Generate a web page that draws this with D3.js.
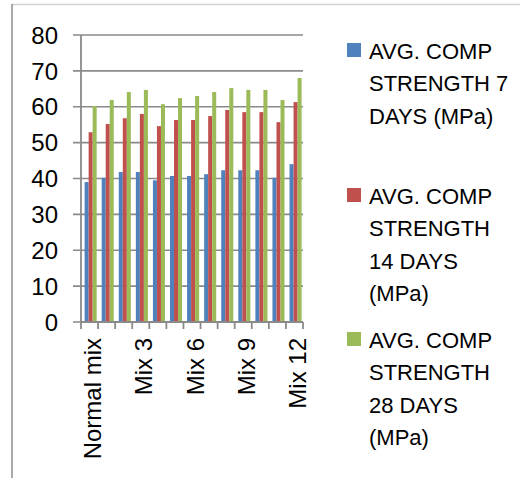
<!DOCTYPE html>
<html>
<head>
<meta charset="utf-8">
<script src="https://cdn.jsdelivr.net/npm/d3@7/dist/d3.min.js"></script>
<style>
  html, body { margin: 0; padding: 0; background: #fff; }
  svg { display: block; }
  text { font-family: "Liberation Sans", Arial, sans-serif; fill: #000; }
</style>
</head>
<body>
<script>
// ---- data ----
const categories = ["Normal mix", "Mix 1", "Mix 2", "Mix 3", "Mix 4", "Mix 5", "Mix 6",
                    "Mix 7", "Mix 8", "Mix 9", "Mix 10", "Mix 11", "Mix 12"];
const seriesNames = ["AVG. COMP STRENGTH 7 DAYS (MPa)",
                     "AVG. COMP STRENGTH 14 DAYS (MPa)",
                     "AVG. COMP STRENGTH 28 DAYS (MPa)"];
const strength7  = [39.0, 40.2, 41.8, 41.8, 39.5, 40.7, 40.7, 41.2, 42.3, 42.3, 42.3, 40.2, 44.0];
const strength14 = [52.9, 55.2, 56.8, 58.0, 54.6, 56.3, 56.3, 57.4, 59.1, 58.5, 58.5, 55.7, 61.3];
const strength28 = [60.2, 61.9, 64.1, 64.7, 60.7, 62.4, 63.0, 64.1, 65.2, 64.7, 64.7, 61.9, 68.0];
const yTicks = [0, 10, 20, 30, 40, 50, 60, 70, 80];
const colors = ["#4F81BD", "#C0504D", "#9BBB59"];

const seriesValues = [strength7, strength14, strength28];

// ---- layout ----
const W = 520, H = 478;
const plot = { left: 81, right: 303, top: 35, bottom: 322 };

const svg = d3.select("body").append("svg").attr("width", W).attr("height", H);

// outer border
svg.append("line").attr("x1", 12).attr("x2", W).attr("y1", 4.5).attr("y2", 4.5)
  .attr("stroke", "#d4d4d4").attr("stroke-width", 1.5);
svg.append("line").attr("x1", 12).attr("x2", 12).attr("y1", 4).attr("y2", H)
  .attr("stroke", "#8c8c8c").attr("stroke-width", 1.5);

const x0 = d3.scaleBand().domain(categories).range([plot.left, plot.right]).padding(0);
const x1 = d3.scaleBand().domain(d3.range(seriesNames.length))
  .range([0, x0.bandwidth()]).paddingInner(0).paddingOuter(0.625).align(0.72);
const y = d3.scaleLinear().domain([0, 80]).range([plot.bottom, plot.top]);

const gridColor = "#8a8a8a";

// gridlines (extend left as ticks)
svg.append("g").selectAll("line").data(yTicks).join("line")
  .attr("x1", plot.left - 8).attr("x2", plot.right)
  .attr("y1", d => y(d)).attr("y2", d => y(d))
  .attr("stroke", gridColor).attr("stroke-width", 1.6);

// y labels
svg.append("g").selectAll("text").data(yTicks).join("text")
  .attr("x", 58).attr("y", d => y(d)).attr("dy", "0.36em")
  .attr("text-anchor", "end").style("font-size", "24px")
  .text(d => d);

// bars
const groups = svg.append("g").selectAll("g").data(categories).join("g")
  .attr("transform", d => `translate(${x0(d)},0)`);
groups.selectAll("rect")
  .data((d, i) => seriesValues.map((vals, s) => ({ s, v: vals[i] })))
  .join("rect")
  .attr("x", d => x1(d.s)).attr("width", x1.bandwidth())
  .attr("y", d => y(d.v)).attr("height", d => y(0) - y(d.v))
  .attr("fill", d => colors[d.s]);

// y axis line
svg.append("line").attr("x1", plot.left).attr("x2", plot.left)
  .attr("y1", plot.top).attr("y2", plot.bottom)
  .attr("stroke", gridColor).attr("stroke-width", 1.8);

// x axis
const xAxis = d3.axisBottom(x0).tickSize(7).tickFormat("");
const gx = svg.append("g").attr("transform", `translate(0,${plot.bottom})`).call(xAxis);
gx.select(".domain").remove();
gx.selectAll(".tick").remove();
const boundaries = categories.map(c => x0(c)).concat([plot.right]);
gx.selectAll("line.tk").data(boundaries).join("line").attr("class", "tk")
  .attr("x1", d => d).attr("x2", d => d).attr("y1", 0).attr("y2", 7)
  .attr("stroke", gridColor).attr("stroke-width", 1.8);
gx.append("line").attr("x1", plot.left).attr("x2", plot.right).attr("y1", 0).attr("y2", 0)
  .attr("stroke", gridColor).attr("stroke-width", 1.8);

// x labels (every 3rd)
svg.append("g").selectAll("text")
  .data(categories.filter((c, i) => i % 3 === 0))
  .join("text")
  .attr("transform", d => `translate(${x0(d) + x0.bandwidth() / 2 + 3},338) rotate(-90)`)
  .attr("text-anchor", "end").attr("dy", "0.36em")
  .style("font-size", "24px")
  .text(d => d);

// legend
const legendX = 347, textX = 369, lineH = 32.3, maxW = 148;
const starts = [59, 204, 348];
seriesNames.forEach((name, i) => {
  const g = svg.append("g");
  g.append("rect").attr("x", legendX).attr("y", starts[i] - 16)
    .attr("width", 14).attr("height", 14).attr("fill", colors[i]);
  const t = g.append("text").attr("x", textX).attr("y", starts[i]).style("font-size", "22px");
  const words = name.split(" ");
  let line = [], lineNo = 0;
  let tspan = t.append("tspan").attr("x", textX).attr("y", starts[i]);
  words.forEach(w => {
    line.push(w);
    tspan.text(line.join(" "));
    if (tspan.node().getComputedTextLength() > maxW && line.length > 1) {
      line.pop();
      tspan.text(line.join(" "));
      line = [w];
      lineNo++;
      tspan = t.append("tspan").attr("x", textX).attr("y", starts[i] + lineNo * lineH).text(w);
    }
  });
});
</script>
</body>
</html>
